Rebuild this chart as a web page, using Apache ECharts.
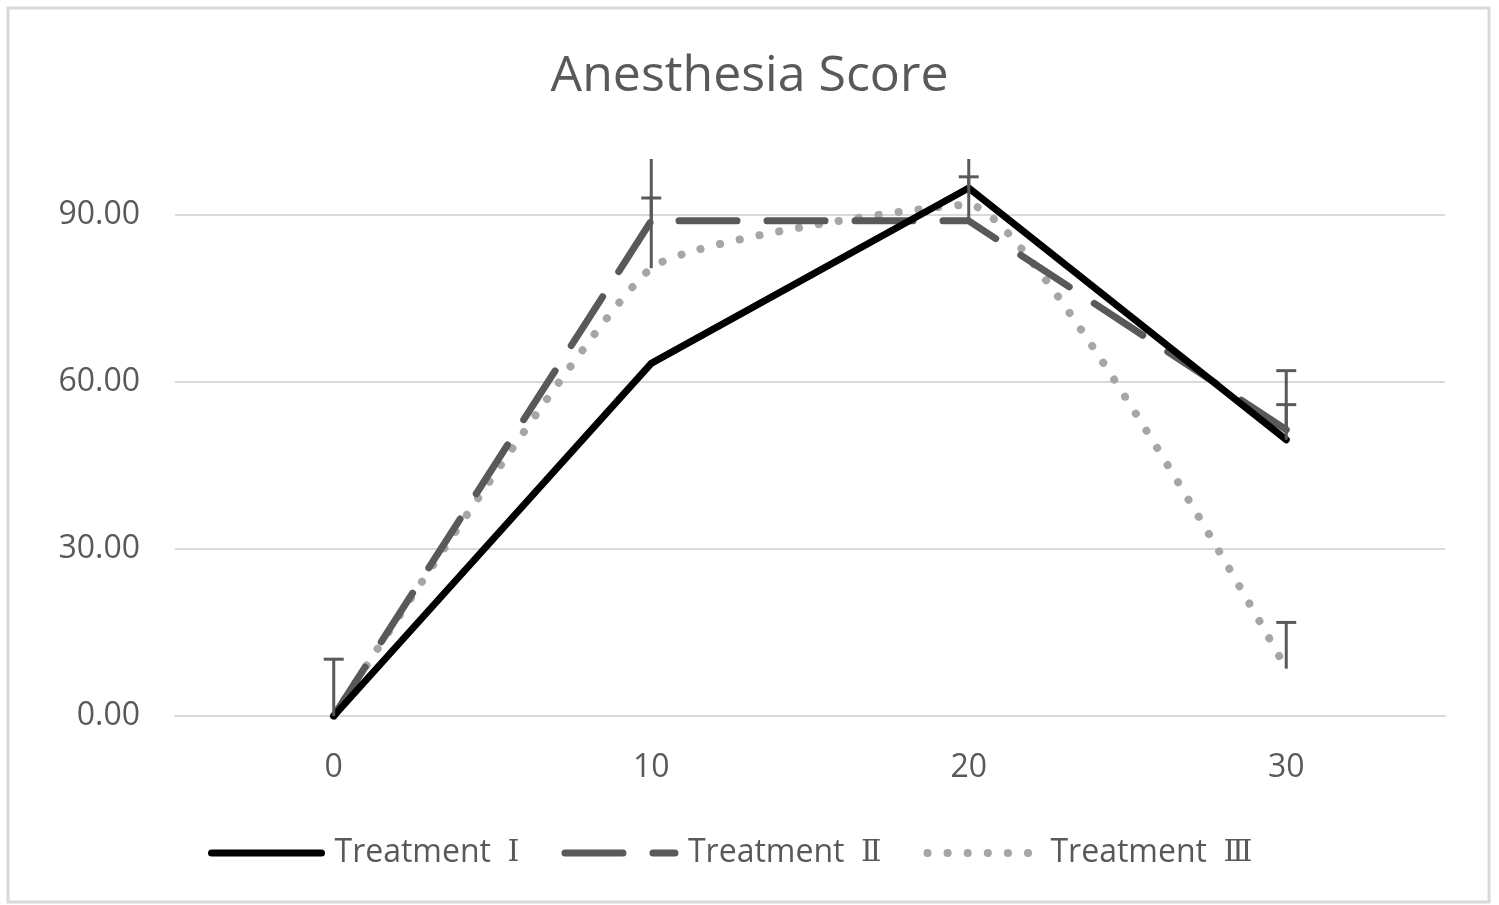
<!DOCTYPE html>
<html>
<head>
<meta charset="utf-8">
<script src="https://cdn.jsdelivr.net/npm/echarts@6/dist/echarts.min.js"></script>
<style>
  html, body { margin: 0; padding: 0; background: #fff; }
  #main { width: 1499px; height: 905px; }
</style>
</head>
<body>
<div id="main"></div>
<script>
// minutes
const categories = ['0', '10', '20', '30']
const yTicks = [0, 30, 60, 90]

// mean scores
const treatment1 = [0, 63.3, 94.8, 49.6]
const treatment2 = [0, 88.9, 88.9, 51.4]
const treatment3 = [0, 80.4, 91.8, 8.5]

// plus-only error bars
const err1 = [10.2, 0, 2.0, 6.3]
const err2 = [0, 4.1, 12.0, 10.6]
const err3 = [0, 21.0, 0, 8.3]

const names = ['Treatment Ⅰ', 'Treatment Ⅱ', 'Treatment Ⅲ']
const textColor = '#595959'
const gridColor = '#d9d9d9'
const errColor = '#595959'
const font = 'Open Sans'

const styles = [
  { color: '#000', width: 7, type: 'solid', cap: 'round', join: 'round' },
  { color: '#595959', width: 7, type: [58, 30], cap: 'round', join: 'round' },
  { color: '#a6a6a6', width: 8, type: [0.1, 20], cap: 'round', join: 'round' }
]

function errorSeries(values, errs) {
  const data = values.map((v, i) => [i, v, v + errs[i]])
  return {
    type: 'custom',
    silent: true,
    z: 5,
    data: data,
    renderItem: function (params, api) {
      const err = api.value(2) - api.value(1)
      if (err <= 0) return null
      const base = api.coord([api.value(0), api.value(1)])
      const tip = api.coord([api.value(0), api.value(2)])
      const top = params.coordSys.y
      const tipY = Math.max(tip[1], top)
      const children = [{
        type: 'line',
        shape: { x1: base[0], y1: base[1], x2: base[0], y2: tipY },
        style: { stroke: errColor, lineWidth: 3 }
      }]
      if (tip[1] >= top) {
        children.push({
          type: 'line',
          shape: { x1: base[0] - 10, y1: tip[1], x2: base[0] + 10, y2: tip[1] },
          style: { stroke: errColor, lineWidth: 3 }
        })
      }
      return { type: 'group', children: children }
    }
  }
}

const chart = echarts.init(document.getElementById('main'))

const option = {
  animation: false,
  backgroundColor: '#fff',
  title: {
    text: 'Anesthesia Score',
    left: 'center',
    top: 47,
    textStyle: {
      color: textColor,
      fontFamily: font,
      fontWeight: 'normal',
      fontSize: 50
    }
  },
  graphic: [{
    type: 'rect',
    shape: { x: 8, y: 8, width: 1481, height: 894 },
    style: { fill: 'none', stroke: gridColor, lineWidth: 3 },
    silent: true
  }],
  legend: {
    data: names.map((n, i) => ({
      name: n,
      lineStyle: { width: styles[i].width, type: styles[i].type, cap: 'round', color: styles[i].color }
    })),
    left: 203,
    top: 832,
    itemWidth: 110,
    itemHeight: 30,
    itemGap: 42,
    itemStyle: { opacity: 0 },
    formatter: function (name) {
      const parts = name.split(' ')
      return '{t|' + parts[0] + '}  {n|' + parts[1] + '}'
    },
    textStyle: {
      color: textColor,
      fontFamily: font,
      fontSize: 32,
      rich: {
        t: { color: textColor, fontFamily: font, fontSize: 32, padding: [0, 0, 0, 8] },
        n: { color: textColor, fontFamily: 'DejaVu Serif', fontSize: 30 }
      }
    }
  },
  grid: {
    left: 175,
    right: 54,
    top: 159,
    bottom: 189,
    containLabel: false
  },
  xAxis: {
    type: 'category',
    data: categories,
    boundaryGap: true,
    axisTick: { show: false },
    axisLine: { lineStyle: { color: gridColor, width: 2 } },
    axisLabel: {
      color: textColor,
      fontFamily: font,
      fontSize: 32,
      margin: 36
    }
  },
  yAxis: {
    type: 'value',
    min: yTicks[0],
    max: 100,
    interval: yTicks[1] - yTicks[0],
    axisLine: { show: false },
    axisTick: { show: false },
    axisLabel: {
      color: textColor,
      fontFamily: font,
      fontSize: 32,
      margin: 35,
      showMaxLabel: false,
      formatter: function (v) { return v.toFixed(2) }
    },
    splitLine: {
      lineStyle: {
        color: yTicks.map(() => gridColor).concat(['rgba(0,0,0,0)']),
        width: 2
      }
    }
  },
  series: [
    {
      name: names[0],
      type: 'line',
      data: treatment1,
      symbol: 'none',
      z: 3,
      lineStyle: styles[0],
      itemStyle: { color: styles[0].color }
    },
    {
      name: names[1],
      type: 'line',
      data: treatment2,
      symbol: 'none',
      z: 2,
      lineStyle: styles[1],
      itemStyle: { color: styles[1].color }
    },
    {
      name: names[2],
      type: 'line',
      data: treatment3,
      symbol: 'none',
      smooth: 0.15,
      z: 1,
      lineStyle: styles[2],
      itemStyle: { color: styles[2].color }
    },
    errorSeries(treatment1, err1),
    errorSeries(treatment2, err2),
    errorSeries(treatment3, err3)
  ]
}

chart.setOption(option)
</script>
</body>
</html>
